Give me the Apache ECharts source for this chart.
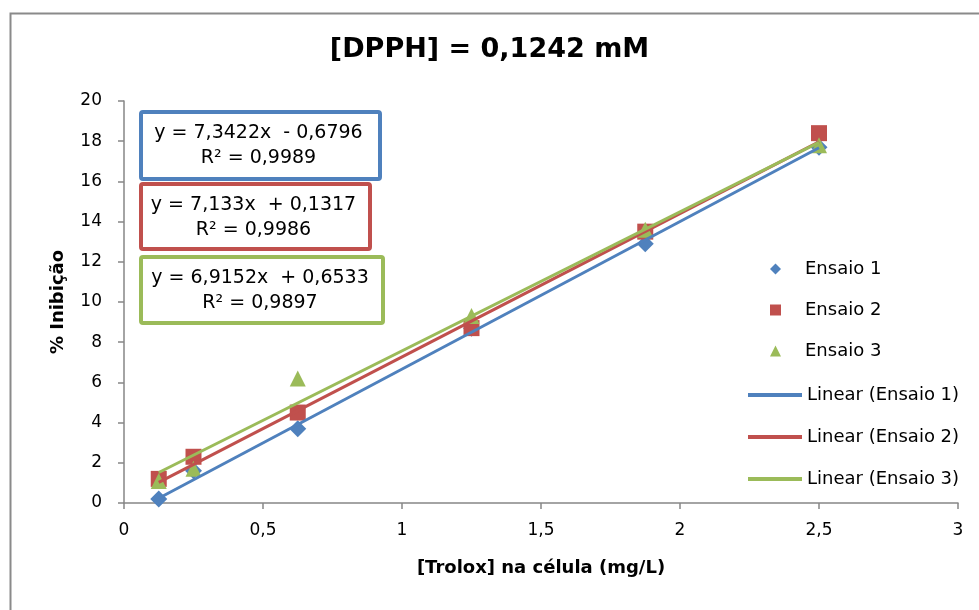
<!DOCTYPE html>
<html>
<head>
<meta charset="utf-8">
<script src="https://cdn.jsdelivr.net/npm/echarts@6/dist/echarts.min.js"></script>
<style>
  html, body { margin: 0; padding: 0; background: #fff; }
  #chart { width: 979px; height: 610px; }
</style>
</head>
<body>
<div id="chart"></div>
<script>
// concentrações de Trolox (mg/L)
const trolox = [0.125, 0.25, 0.625, 1.25, 1.875, 2.5];
// % inibição por ensaio
const ensaio1 = [0.2, 1.6, 3.7, 8.7, 12.9, 17.7];
const ensaio2 = [1.2, 2.3, 4.5, 8.7, 13.5, 18.4];
const ensaio3 = [1.1, 1.7, 6.2, 9.3, 13.6, 17.8];
// regressões lineares (do Excel)
const slopes = [7.3422, 7.133, 6.9152];
const intercepts = [-0.6796, 0.1317, 0.6533];
const eqLabels = [
  ["y = 7,3422x  - 0,6796", "R² = 0,9989"],
  ["y = 7,133x  + 0,1317", "R² = 0,9986"],
  ["y = 6,9152x  + 0,6533", "R² = 0,9897"]
];
const seriesNames = ["Ensaio 1", "Ensaio 2", "Ensaio 3"];
const xTicks = [0, 0.5, 1, 1.5, 2, 2.5, 3];

const colors = ["#4F81BD", "#C0504D", "#9BBB59"];
const symbols = ["diamond", "rect", "triangle"];
const symbolSizes = [17, 16, 16];
const font = "DejaVu Sans";

const dataSets = [ensaio1, ensaio2, ensaio3];
const x0 = trolox[0], x1 = trolox[trolox.length - 1];

const scatterSeries = dataSets.map((vals, i) => ({
  name: seriesNames[i],
  type: "scatter",
  data: trolox.map((x, j) => [x, vals[j]]),
  symbol: symbols[i],
  symbolSize: symbolSizes[i],
  itemStyle: { color: colors[i], opacity: 1 },
  z: 2
}));

const lineSeries = slopes.map((m, i) => ({
  name: "Linear (" + seriesNames[i] + ")",
  type: "line",
  data: [[x0, m * x0 + intercepts[i]], [x1, m * x1 + intercepts[i]]],
  showSymbol: false,
  symbol: "none",
  lineStyle: { color: colors[i], width: 3 },
  itemStyle: { color: colors[i] },
  z: 3
}));

// caixas das equações
const boxes = [
  { left: 139, top: 110, w: 239, h: 67 },
  { left: 139, top: 182, w: 229, h: 65 },
  { left: 139, top: 255, w: 242, h: 66 }
];
const eqGraphics = [];
boxes.forEach((b, i) => {
  eqGraphics.push({
    type: "rect",
    left: b.left, top: b.top,
    shape: { width: b.w, height: b.h, r: 2 },
    style: { fill: "#fff", stroke: colors[i], lineWidth: 4 },
    z: 10
  });
  eqGraphics.push({
    type: "text",
    x: b.left + b.w / 2, y: b.top + 11,
    style: {
      text: eqLabels[i][0] + "\n" + eqLabels[i][1],
      font: "19px '" + font + "'",
      fill: "#000",
      align: "center",
      verticalAlign: "top",
      lineHeight: 25
    },
    z: 11
  });
});

const chart = echarts.init(document.getElementById("chart"));
const axisColor = "#868686";

const option = {
  animation: false,
  backgroundColor: "#fff",
  title: {
    text: "[DPPH] = 0,1242 mM",
    left: "center",
    top: 31,
    textStyle: { fontFamily: font, fontWeight: "bold", fontSize: 27, color: "#000" }
  },
  grid: { left: 124, right: 21, top: 101, bottom: 107, containLabel: false },
  legend: [
    {
      data: seriesNames,
      orient: "vertical",
      left: 765,
      top: 255,
      itemWidth: 11,
      itemHeight: 11,
      itemGap: 23,
      textStyle: { fontFamily: font, fontSize: 18, color: "#000", padding: [0, 0, 0, 19] }
    },
    {
      data: lineSeries.map(s => ({ name: s.name, icon: "rect" })),
      orient: "vertical",
      left: 743,
      top: 381,
      itemWidth: 54,
      itemHeight: 4,
      itemGap: 24,
      textStyle: { fontFamily: font, fontSize: 18, color: "#000" }
    }
  ],
  xAxis: {
    type: "value",
    min: 0, max: 3, interval: 0.5,
    name: "[Trolox] na célula (mg/L)",
    nameLocation: "middle",
    nameGap: 56,
    nameTextStyle: { fontFamily: font, fontWeight: "bold", fontSize: 18, color: "#000" },
    axisLine: { show: true, onZero: false, lineStyle: { color: axisColor, width: 1.5 } },
    axisTick: { show: true, length: 6, inside: false, lineStyle: { color: axisColor, width: 1.5 } },
    axisLabel: {
      fontFamily: font, fontSize: 17, color: "#000", margin: 19,
      formatter: v => xTicks.includes(v) ? String(v).replace(".", ",") : ""
    },
    splitLine: { show: false }
  },
  yAxis: {
    type: "value",
    min: 0, max: 20, interval: 2,
    name: "% Inibição",
    nameLocation: "middle",
    nameGap: 57,
    nameTextStyle: { fontFamily: font, fontWeight: "bold", fontSize: 18, color: "#000" },
    axisLine: { show: true, onZero: false, lineStyle: { color: axisColor, width: 1.5 } },
    axisTick: { show: true, length: 6, lineStyle: { color: axisColor, width: 1.5 } },
    axisLabel: { fontFamily: font, fontSize: 17, color: "#000", margin: 22 },
    splitLine: { show: false }
  },
  graphic: [
    {
      type: "rect",
      left: 8, top: 11,
      shape: { width: 1000, height: 700 },
      style: { fill: "none", stroke: "#8a8a8a", lineWidth: 2 },
      silent: true
    }
  ].concat(eqGraphics),
  series: scatterSeries.concat(lineSeries)
};

chart.setOption(option);
</script>
</body>
</html>
